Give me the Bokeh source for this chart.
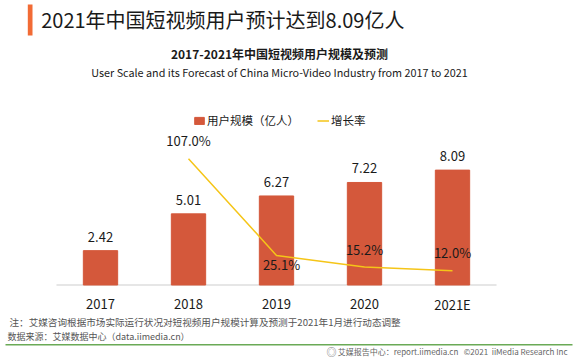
from bokeh.plotting import figure
from bokeh.models import (ColumnDataSource, Range1d, LabelSet, Label,
                          Legend, LegendItem, BoxAnnotation)
from bokeh.core.properties import value
from bokeh.embed import file_html
from bokeh.resources import INLINE

# ---- data ----
years = ["2017", "2018", "2019", "2020", "2021E"]
users = [2.42, 5.01, 6.27, 7.22, 8.09]
user_labels = ["2.42", "5.01", "6.27", "7.22", "8.09"]
rate_years = ["2018", "2019", "2020", "2021E"]
rates = [107.0, 25.1, 15.2, 12.0]
rate_labels = ["107.0%", "25.1%", "15.2%", "12.0%"]

title_text = "2021年中国短视频用户预计达到8.09亿人"
subtitle_cn = "2017-2021年中国短视频用户规模及预测"
subtitle_en = "User Scale and its Forecast of China Micro-Video Industry from 2017 to 2021"
legend_bar = "用户规模（亿人）"
legend_line = "增长率"
note_text = "注：艾媒咨询根据市场实际运行状况对短视频用户规模计算及预测于2021年1月进行动态调整"
source_text = "数据来源：艾媒数据中心（data.iimedia.cn）"
NB = "\u00a0"
footer_text = ("艾媒报告中心：report.iimedia.cn" + NB * 3 + "©2021" + NB * 2
               + "iiMedia" + NB + "Research" + NB + "Inc")

# ---- layout ----
FONT = "Noto Sans CJK SC"
BAR_COLOR = "#d4583b"
LINE_COLOR = "#f5c518"
W, H = 577, 361
X0, STEP = 100.0, 88.0      # page x of first category centre, px per category
BASE = 284.5                # page y of the zero line
BAR_PX, RATE_PX = 14.2, 1.18

xpos = list(range(len(years)))
rate_xpos = [years.index(y) for y in rate_years]

p = figure(width=W, height=H,
           x_range=Range1d(-X0 / STEP, (W - X0) / STEP),
           y_range=Range1d(-(H - BASE) / BAR_PX, BASE / BAR_PX),
           title=None, output_backend="svg", toolbar_location=None,
           x_axis_location=None, y_axis_location=None,
           min_border=0)
p.extra_y_ranges = {"rate": Range1d(-(H - BASE) / RATE_PX, BASE / RATE_PX)}
p.outline_line_color = None
p.grid.visible = False

# baseline (axis line)
p.segment(x0=[xpos[0] - 0.5], y0=[0], x1=[xpos[-1] + 0.5], y1=[0],
          line_color="#e6e6e6", line_width=2)

bar_src = ColumnDataSource(dict(x=xpos, top=users, text=user_labels))
bars = p.vbar(x="x", top="top", width=0.39, source=bar_src, fill_color=BAR_COLOR,
              line_color=BAR_COLOR)
rate_src = ColumnDataSource(dict(x=rate_xpos, y=rates, text=rate_labels,
                                 xo=[0, 5, 0, 0], yo=[18, -9, 18, 18]))
line = p.line(x="x", y="y", source=rate_src, y_range_name="rate",
              line_color=LINE_COLOR, line_width=1.5)

p.add_layout(LabelSet(x="x", y="top", text="text", source=bar_src, y_offset=14,
                      text_align="center", text_baseline="middle",
                      text_font=value(FONT), text_font_size="13px", text_color="#1a1a1a"))
p.add_layout(LabelSet(x="x", y="y", text="text", source=rate_src, y_range_name="rate",
                      x_offset="xo", y_offset="yo",
                      text_align="center", text_baseline="middle",
                      text_font=value(FONT), text_font_size="13px", text_color="#1a1a1a"))

# category tick labels
tick_src = ColumnDataSource(dict(x=xpos, y=[0] * len(years), text=years))
p.add_layout(LabelSet(x="x", y="y", text="text", source=tick_src, y_offset=-19,
                      text_align="center", text_baseline="middle",
                      text_font=value(FONT), text_font_size="13px", text_color="#1a1a1a"))

legend = Legend(items=[LegendItem(label=legend_bar, renderers=[bars]),
                       LegendItem(label=legend_line, renderers=[line])],
                orientation="horizontal", location=(193, H - 121 - 7),
                border_line_color=None, background_fill_alpha=0,
                padding=0, margin=0, spacing=18, glyph_width=12, glyph_height=9,
                label_standoff=2, label_height=12,
                label_text_font=FONT, label_text_font_size="11.5px",
                label_text_color="#1a1a1a")
p.add_layout(legend)

# screen helpers (page pixel -> frame screen units, origin bottom-left)
def sx(px):
    return px

def sy(py):
    return H - py

def add_text(text, px, py, size, color="#1a1a1a", align="left", style="normal"):
    p.add_layout(Label(x=sx(px), y=sy(py), x_units="screen", y_units="screen",
                       text=text, text_font=FONT, text_font_size=size,
                       text_color=color, text_align=align, text_baseline="middle",
                       text_font_style=style))

def add_box(l, r, t, b, color):
    p.add_layout(BoxAnnotation(left=sx(l), right=sx(r), top=sy(t), bottom=sy(b),
                               left_units="screen", right_units="screen",
                               top_units="screen", bottom_units="screen",
                               fill_color=color, fill_alpha=1, line_color=None))

add_box(27.3, 32, 4, 35, "#f26b35")
add_text(title_text, 40.7, 19, "20px")
add_text(subtitle_cn, 279, 52.5, "12px", align="center", style="bold")
add_text(subtitle_en, 279, 71, "10.8px", align="center")
add_text(note_text, 9, 321.5, "9.6px", color="#555555")
add_text(source_text, 7, 335.5, "9px", color="#555555")
add_box(5, 572, 343.5, 345, "#6aaa56")
add_text("◎", 326, 351, "10px", color="#777777")
add_text(footer_text, 567, 351, "8px", color="#666666", align="right")

open("out.html", "w").write(file_html(p, INLINE))
